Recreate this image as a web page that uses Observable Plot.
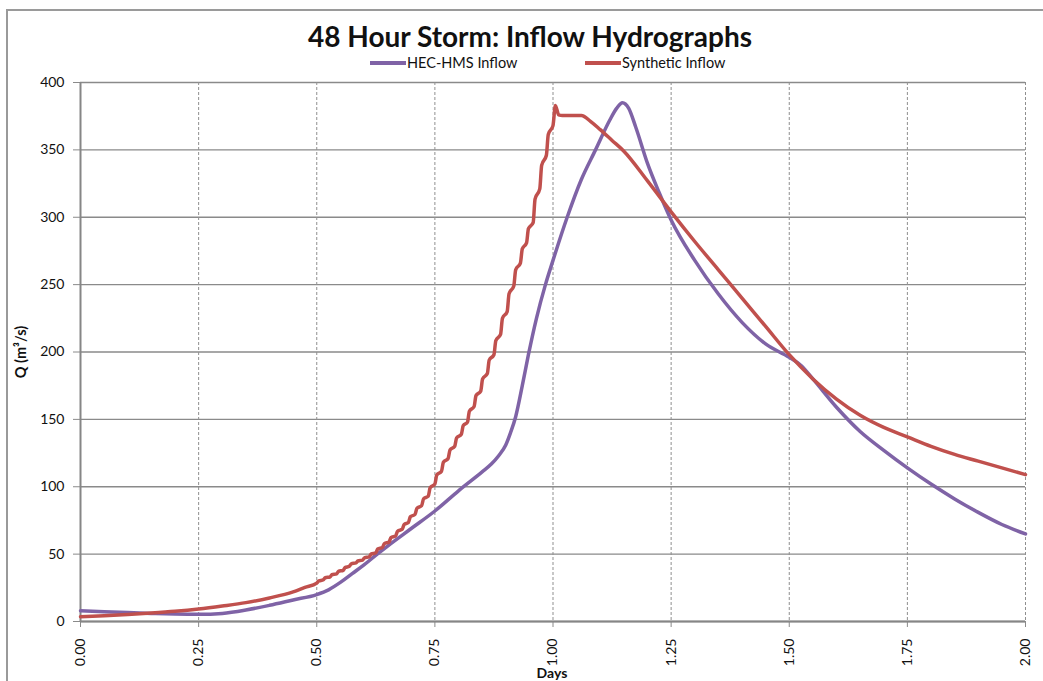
<!DOCTYPE html>
<html>
<head>
<meta charset="utf-8">
<script src="https://cdn.jsdelivr.net/npm/d3@7"></script>
<script src="https://cdn.jsdelivr.net/npm/@observablehq/plot@0.6"></script>
<style>
  html, body { margin: 0; padding: 0; background: #fff; }
  #wrap { position: relative; width: 1043px; height: 681px; overflow: hidden; font-family: Lato, "Open Sans", sans-serif; color: #111; }
  #frame { position: absolute; left: 6px; top: 9px; width: 1100px; height: 700px; border-left: 2px solid #9a9a9a; border-top: 2px solid #9a9a9a; }
  #chart { position: absolute; left: 0; top: 0; }
  #title { position: absolute; left: 0; width: 1060px; top: 22px; text-align: center; font-weight: 700; font-size: 28px; line-height: 28px; }
  .leg { position: absolute; top: 56px; font-size: 14.5px; line-height: 14px; display: flex; align-items: center; }
  .leg span.sw { display: inline-block; width: 36px; height: 4px; margin-right: 1px; }
  #ylab { position: absolute; left: 20px; top: 352px; transform: translate(-50%, -50%) rotate(-90deg); font-weight: 700; font-size: 14.5px; white-space: nowrap; }
  #xlab { position: absolute; left: 552px; top: 665px; transform: translateX(-50%); font-weight: 700; font-size: 14px; line-height: 15px; }
</style>
</head>
<body>
<div id="wrap">
  <div id="frame"></div>
  <div id="chart"></div>
  <div id="title">48 Hour Storm: Inflow Hydrographs</div>
  <div class="leg" style="left:370px"><span class="sw" style="background:#7f63a6"></span>HEC-HMS Inflow</div>
  <div class="leg" style="left:585px"><span class="sw" style="background:#c0504d"></span>Synthetic Inflow</div>
  <div id="ylab">Q (m³/s)</div>
  <div id="xlab">Days</div>
</div>
<script>
// ---- Data ----
const seriesNames = ["HEC-HMS Inflow", "Synthetic Inflow"];
const xTicks = [0, 0.25, 0.5, 0.75, 1.0, 1.25, 1.5, 1.75, 2.0];
const yTicks = [0, 50, 100, 150, 200, 250, 300, 350, 400];

const hmsDays = [0, 0.05, 0.1, 0.15, 0.2, 0.25, 0.3, 0.35, 0.4, 0.45, 0.5, 0.525, 0.55, 0.575, 0.6, 0.628, 0.65, 0.7, 0.75, 0.8, 0.85, 0.87, 0.885, 0.9, 0.91, 0.921, 0.935, 0.948, 0.965, 0.984, 1.0, 1.03, 1.06, 1.09, 1.12, 1.135, 1.147, 1.16, 1.175, 1.2, 1.225, 1.25, 1.3, 1.35, 1.4, 1.45, 1.5, 1.525, 1.55, 1.6, 1.65, 1.7, 1.75, 1.8, 1.85, 1.9, 1.95, 2.0];
const hmsQ = [8, 7.3, 6.6, 6, 5.5, 5.3, 6, 8.5, 12, 16, 20, 23.5, 29, 35.5, 42, 50, 56, 69, 82, 97, 111, 117, 123, 131, 140, 152, 175, 198, 225, 250, 268, 300, 328, 350, 372, 381, 385, 381, 367, 340, 318, 298, 268, 243, 222, 206, 196, 190, 180, 159, 141, 127, 114, 102, 91, 81, 72, 65];

const synDays = [0, 0.05, 0.1, 0.15, 0.2, 0.25, 0.3, 0.35, 0.4, 0.45, 0.475,
  0.500, 0.504, 0.514, 0.518, 0.528, 0.532, 0.542, 0.546, 0.556, 0.560,
  0.569, 0.573, 0.583, 0.587, 0.597, 0.601, 0.611, 0.615, 0.625, 0.629,
  0.639, 0.643, 0.653, 0.657, 0.667, 0.671, 0.681, 0.685, 0.694, 0.698,
  0.708, 0.712, 0.722, 0.726, 0.736, 0.740, 0.750, 0.754, 0.764, 0.768,
  0.778, 0.782, 0.792, 0.796, 0.806, 0.810, 0.819, 0.823, 0.833, 0.837,
  0.847, 0.851, 0.861, 0.865, 0.875, 0.879, 0.889, 0.893, 0.903, 0.907,
  0.917, 0.921, 0.931, 0.935, 0.944, 0.948, 0.958, 0.962, 0.972, 0.976,
  0.986, 0.990, 1.000, 1.005, 1.012, 1.02, 1.06, 1.08, 1.10, 1.125, 1.15,
  1.2, 1.25, 1.3, 1.35, 1.4, 1.45, 1.5, 1.55, 1.6, 1.65, 1.7, 1.75, 1.8, 1.85, 1.9, 1.95, 2.0];
const synQ = [3.5, 4.3, 5.2, 6.3, 7.6, 9.3, 11.5, 14, 17.5, 22, 25.3,
  28.5, 30, 31, 32.5, 33, 34.7, 35.4, 37.2, 38, 40,
  41, 42.8, 43.5, 44.9, 45.5, 47.3, 48, 50, 51, 53.8,
  55, 57.8, 59, 62.2, 63.5, 67, 68.5, 72, 73.5, 77.7,
  79.5, 84, 86, 91, 93, 99.3, 102, 108.7, 111.5, 118.2,
  121, 127.3, 130, 136.3, 139, 145.3, 148, 156, 159.5, 167.6,
  171, 180, 184, 194, 198, 208.5, 213, 225, 230, 243.3,
  249, 261, 266, 276.5, 281, 291.5, 296, 313.5, 321, 338.5,
  346, 361.4, 368, 383, 376, 375.5, 375.5, 371, 365, 357, 349,
  327, 304, 282, 261, 240, 219, 198, 180, 165, 153, 144, 137, 130, 124, 119, 114, 109];

const hms = hmsDays.map((d, i) => ({d, q: hmsQ[i], s: seriesNames[0]}));
const syn = synDays.map((d, i) => ({d, q: synQ[i], s: seriesNames[1]}));

const chart = Plot.plot({
  width: 1043,
  height: 681,
  marginLeft: 80,
  marginRight: 18,
  marginTop: 82,
  marginBottom: 60,
  style: {fontFamily: "Lato, 'Open Sans', sans-serif", fontSize: "14px", color: "#111", background: "transparent"},
  x: {domain: [0, 2]},
  y: {domain: [0, 400]},
  marks: [
    Plot.gridY(yTicks, {stroke: "#8a8a8a", strokeOpacity: 1, strokeWidth: 1.3}),
    Plot.gridX(xTicks, {stroke: "#8f8f8f", strokeOpacity: 1, strokeWidth: 1, strokeDasharray: "3,2"}),
    Plot.axisY(yTicks, {tickSize: 7, tickPadding: 9, label: null, stroke: "#8a8a8a", fill: "#111"}),
    Plot.axisX(xTicks, {tickSize: 6, tickPadding: 11, tickRotate: -90, tickFormat: d3.format(".2f"), label: null, stroke: "#8a8a8a", fill: "#111"}),
    Plot.ruleX([0], {stroke: "#868686", strokeWidth: 2}),
    Plot.ruleY([0], {stroke: "#868686", strokeWidth: 2}),
    Plot.line(hms, {x: "d", y: "q", stroke: "#7f63a6", strokeWidth: 3.5, curve: "monotone-x"}),
    Plot.line(syn, {x: "d", y: "q", stroke: "#c0504d", strokeWidth: 3.5, curve: "monotone-x", strokeLinejoin: "round"})
  ]
});
document.getElementById("chart").appendChild(chart);
</script>
</body>
</html>
